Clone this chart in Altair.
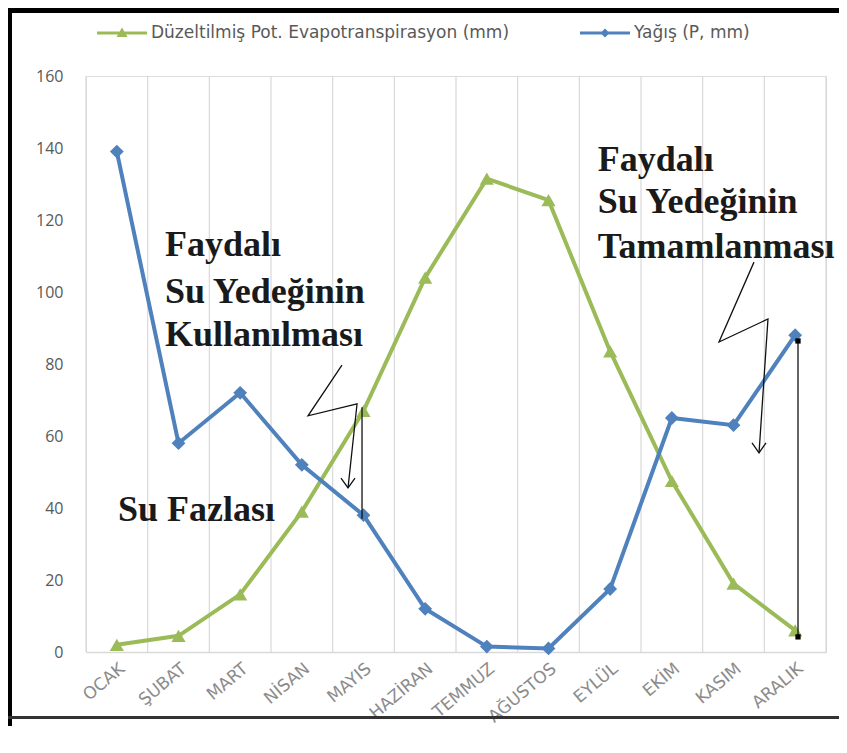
import altair as alt
import pandas as pd

MONTHS = ["OCAK", "ŞUBAT", "MART", "NİSAN", "MAYIS", "HAZİRAN",
          "TEMMUZ", "AĞUSTOS", "EYLÜL", "EKİM", "KASIM", "ARALIK"]
PET = [2, 4.5, 16, 39, 67, 104, 131.5, 125.5, 83.5, 47.5, 19, 6]
RAIN = [139, 58, 72, 52, 38, 12, 1.5, 1, 17.5, 65, 63, 88]

SERIES = ["Düzeltilmiş Pot. Evapotranspirasyon (mm)", "Yağış (P, mm)"]
COLORS = ["#9BBB59", "#4F81BD"]
Y_TICKS = [0, 20, 40, 60, 80, 100, 120, 140, 160]

# annotation texts (x in month-index units, y in mm)
ANN_TEXT = ["Faydalı", "Su Yedeğinin", "Kullanılması",
            "Faydalı", "Su Yedeğinin", "Tamamlanması", "Su Fazlası"]
ANN_X = [0.78, 0.78, 0.78, 7.80, 7.80, 7.80, 0.02]
ANN_Y = [113.1, 100.0, 88.1, 136.7, 125.0, 112.5, 39.4]

# lightning arrows and connector lines (month-index / mm units)
PATH_ID = ["z1", "z1", "z1", "z1", "h1", "h1", "h1",
           "z2", "z2", "z2", "z2", "h2", "h2", "h2",
           "v1", "v1", "v2", "v2"]
PATH_X = [3.651, 3.100, 3.895, 3.749, 3.635, 3.749, 3.862,
          10.332, 9.765, 10.559, 10.414, 10.300, 10.414, 10.527,
          3.976, 3.976, 11.046, 11.046]
PATH_Y = [79.7, 65.6, 68.9, 45.6, 48.3, 45.6, 48.3,
          108.3, 86.1, 92.5, 55.3, 58.1, 55.3, 58.1,
          68.0, 37.0, 86.4, 4.2]
SQ_X = [11.046, 11.046]
SQ_Y = [86.4, 4.2]

idx = list(range(len(MONTHS)))
df = pd.DataFrame({
    "i": idx * 2,
    "v": PET + RAIN,
    "s": [SERIES[0]] * 12 + [SERIES[1]] * 12,
})
grid_df = pd.DataFrame({"i": [k - 0.5 for k in range(len(MONTHS) + 1)]})
ann_df = pd.DataFrame({"i": ANN_X, "v": ANN_Y, "t": ANN_TEXT})
path_df = pd.DataFrame({"p": PATH_ID, "i": PATH_X, "v": PATH_Y,
                        "o": list(range(len(PATH_ID)))})
sq_df = pd.DataFrame({"i": SQ_X, "v": SQ_Y})

W, H = 740, 576
label_expr = "[" + ",".join("'%s'" % m for m in MONTHS) + "][datum.value]"

xs = alt.Scale(domain=[-0.5, 11.5], nice=False, zero=False)
ys = alt.Scale(domain=[0, 160], nice=False)
color_scale = alt.Scale(domain=SERIES, range=COLORS)

x_enc = alt.X("i:Q", scale=xs, title=None, axis=alt.Axis(
    values=idx, labelExpr=label_expr, title=None, grid=False, ticks=False,
    domain=True, domainColor="#d9d9d9", domainWidth=1.5,
    labelAngle=-40, labelAlign="right", labelBaseline="top",
    labelFont="DejaVu Sans", labelFontSize=17, labelColor="#8c8c8c",
    labelPadding=8, labelOverlap=False, labelBound=False, labelFlush=False))
y_enc = alt.Y("v:Q", scale=ys, title=None, axis=alt.Axis(
    values=Y_TICKS, title=None, grid=False, ticks=False, domain=False,
    labelFont="Open Sans", labelFontSize=16, labelColor="#595959",
    labelPadding=23))
x_plain = alt.X("i:Q", scale=xs, title=None)
y_plain = alt.Y("v:Q", scale=ys, title=None)

LEG_SHAPES = [
    "M-2.5,-0.15H2.5V0.15H-2.5Z M0,-0.55L0.55,0.4L-0.55,0.4Z",
    "M-2.5,-0.15H2.5V0.15H-2.5Z M0,-0.45L0.45,0L0,0.45L-0.45,0Z",
]
leg = alt.Legend(title=None, orient="none", direction="horizontal",
                 legendX=26, legendY=-53, symbolSize=400, symbolStrokeWidth=0,
                 labelFont="DejaVu Sans", labelFontSize=17, labelColor="#595959",
                 labelOffset=19, columnPadding=70, labelLimit=600)
color_enc = alt.Color("s:N", scale=color_scale, legend=leg)

grid = alt.Chart(grid_df).mark_rule(color="#d9d9d9", strokeWidth=1.2).encode(
    x=x_enc)

lines = alt.Chart(df).mark_line(strokeWidth=4).encode(
    x=x_plain, y=y_enc, color=color_enc, detail="s:N")

tri = alt.Chart(df).transform_filter(alt.datum.s == SERIES[0]).mark_point(
    shape="triangle-up", filled=True, size=200, opacity=1).encode(
    x=x_plain, y=y_plain, color=color_enc)
dia = alt.Chart(df).transform_filter(alt.datum.s == SERIES[1]).mark_point(
    shape="diamond", filled=True, size=190, opacity=1).encode(
    x=x_plain, y=y_plain, color=color_enc)

legend_layer = alt.Chart(df).transform_filter("false").mark_point(
    filled=True, opacity=1).encode(
    x=x_plain, y=y_plain, color=color_enc,
    shape=alt.Shape("s:N", scale=alt.Scale(domain=SERIES, range=LEG_SHAPES),
                    legend=leg))

paths = alt.Chart(path_df).mark_line(color="#111111", strokeWidth=1.3).encode(
    x=x_plain, y=y_plain, detail="p:N", order="o:Q")
squares = alt.Chart(sq_df).mark_square(color="#000000", size=28, opacity=1).encode(
    x=x_plain, y=y_plain)

texts = alt.Chart(ann_df).mark_text(
    font="Liberation Serif", fontWeight="bold", fontSize=36, color="#1a1a1a",
    align="left", baseline="middle").encode(
    x=x_plain, y=y_plain, text="t:N")

# frame of the picture
frame_left = alt.Chart(grid_df).mark_rule(color="#000000", strokeWidth=7).encode(
    x=alt.value(-78), y=alt.value(-70), y2=alt.value(650))
frame_top = alt.Chart(grid_df).mark_rule(color="#000000", strokeWidth=5).encode(
    x=alt.value(-80), x2=alt.value(780), y=alt.value(-66))
frame_bottom = alt.Chart(grid_df).mark_rule(color="#333333", strokeWidth=2.5).encode(
    x=alt.value(-80), x2=alt.value(780), y=alt.value(641.5))

chart = alt.layer(
    grid, lines, tri, dia, legend_layer, paths, squares, texts,
    frame_left, frame_top, frame_bottom
).properties(
    width=W, height=H,
    autosize=alt.AutoSizeParams(type="none"),
    padding={"left": 78, "top": 68, "right": 13, "bottom": 93},
).configure_view(stroke=None).configure(background="white")

chart.save("out.html", embed_options={"renderer": "svg", "actions": False})
